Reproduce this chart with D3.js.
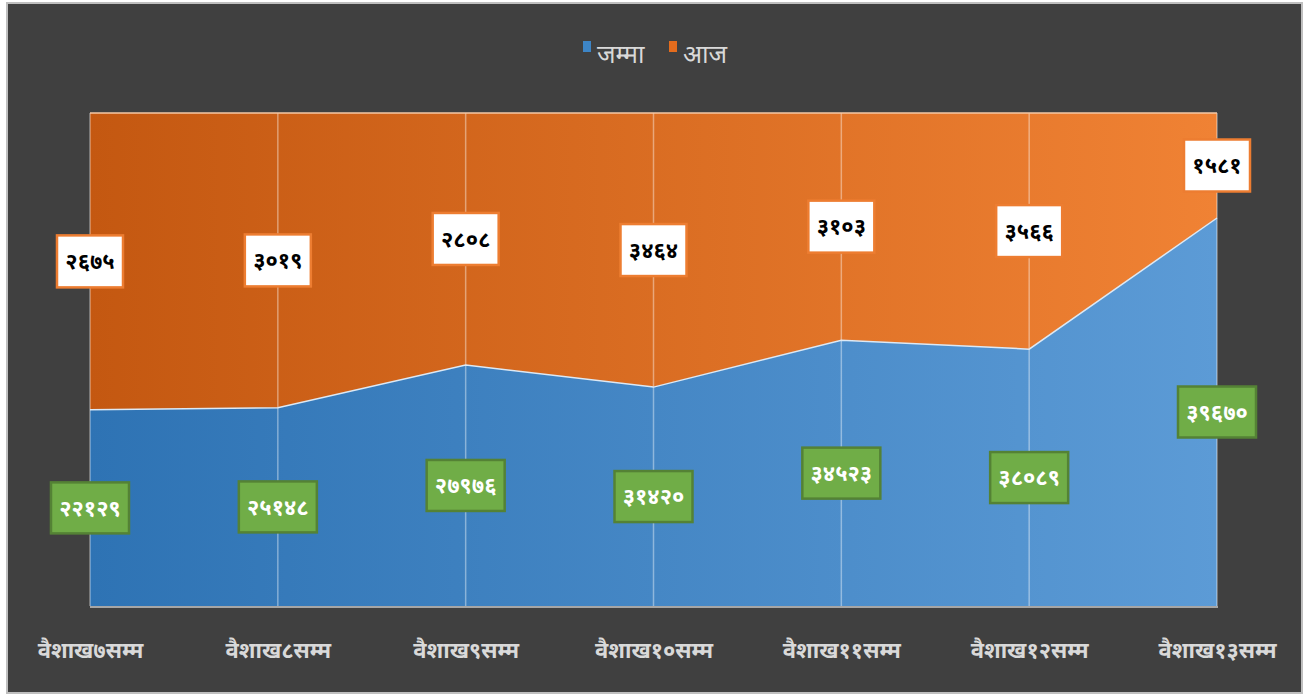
<!DOCTYPE html>
<html>
<head>
<meta charset="utf-8">
<script src="https://cdn.jsdelivr.net/npm/d3@7"></script>
<style>
  html, body { margin: 0; padding: 0; background: #ffffff; }
  #chart { width: 1306px; height: 695px; }
  text { font-family: 'Noto Sans Devanagari', 'Noto Sans', 'Lohit Devanagari', sans-serif; }
</style>
</head>
<body>
<div id="chart"></div>
<script>
const categories = ['वैशाख७सम्म', 'वैशाख८सम्म', 'वैशाख९सम्म', 'वैशाख१०सम्म', 'वैशाख११सम्म', 'वैशाख१२सम्म', 'वैशाख१३सम्म']
const seriesNames = ['जम्मा', 'आज']
// shares (%) of the 100% stacked area
const jammaShare = [39.8, 40.2, 48.9, 44.4, 53.9, 52.1, 78.7]
const aajShare = [60.2, 59.8, 51.1, 55.6, 46.1, 47.9, 21.3]
// data label texts as shown
const jammaLabels = ['२२१२९', '२५१४८', '२७९७६', '३१४२०', '३४५२३', '३८०८९', '३९६७०']
const aajLabels = ['२६७५', '३०१९', '२८०८', '३४६४', '३१०३', '३५६६', '१५८१']

const width = 1306
const height = 695
const margin = { top: 113, right: 89, bottom: 89, left: 90 }

const data = categories.map((c, i) => ({ cat: c, jamma: jammaShare[i], aaj: aajShare[i] }))

const svg = d3.select('#chart').append('svg')
  .attr('width', width)
  .attr('height', height)

// background + outer border
svg.append('rect')
  .attr('x', 7).attr('y', 3)
  .attr('width', 1295).attr('height', 690)
  .attr('fill', '#404040')
  .attr('stroke', '#bfbfbf')
  .attr('stroke-width', 2)

const xScale = d3.scalePoint()
  .domain(categories)
  .range([margin.left, width - margin.right])

const yScale = d3.scaleLinear()
  .domain([0, 100])
  .range([height - margin.bottom, margin.top])

const defs = svg.append('defs')
const grad = (id, c0, c1) => {
  const g = defs.append('linearGradient').attr('id', id)
    .attr('x1', '0%').attr('x2', '100%').attr('y1', '0%').attr('y2', '0%')
  g.append('stop').attr('offset', '0%').attr('stop-color', c0)
  g.append('stop').attr('offset', '100%').attr('stop-color', c1)
}
grad('gBlue', '#2e73b4', '#5c9bd6')
grad('gOrange', '#c45811', '#f08234')

const stacked = d3.stack().keys(['jamma', 'aaj'])(data)
const fills = ['url(#gBlue)', 'url(#gOrange)']
const strokes = ['#dce9f5', '#f6c9a6']

const area = d3.area()
  .x((d) => xScale(d.data.cat))
  .y0((d) => yScale(d[0]))
  .y1((d) => yScale(d[1]))

const line = d3.line()
  .x((d) => xScale(d.data.cat))
  .y((d) => yScale(d[1]))

// draw data
svg.append('g').selectAll('path')
  .data(stacked)
  .join('path')
  .attr('d', area)
  .attr('fill', (d, i) => fills[i])

// vertical gridlines
svg.append('g').selectAll('line')
  .data(categories)
  .join('line')
  .attr('x1', (d) => xScale(d)).attr('x2', (d) => xScale(d))
  .attr('y1', yScale(100)).attr('y2', yScale(0))
  .attr('stroke', 'rgba(255,255,255,0.4)')
  .attr('stroke-width', 1.5)

svg.append('g').selectAll('path')
  .data(stacked)
  .join('path')
  .attr('d', line)
  .attr('fill', 'none')
  .attr('stroke', (d, i) => strokes[i])
  .attr('stroke-width', 1.5)

// bottom axis line
svg.append('line')
  .attr('x1', xScale.range()[0]).attr('x2', xScale.range()[1] + 1)
  .attr('y1', yScale(0) + 1).attr('y2', yScale(0) + 1)
  .attr('stroke', '#a6a6a6')
  .attr('stroke-width', 2)

// axis labels
const xAxis = d3.axisBottom(xScale).tickSize(0).tickPadding(36)
const xAxisG = svg.append('g')
  .attr('transform', `translate(0, ${yScale(0)})`)
  .call(xAxis)
xAxisG.select('.domain').remove()
xAxisG.selectAll('text')
  .attr('fill', '#d9d9d9')
  .attr('font-size', 22)
  .attr('font-weight', 'bold')
  .style('font-family', "'Noto Sans Devanagari', 'Noto Sans', sans-serif")

// data labels
const labelSets = [
  { layer: stacked[0], texts: jammaLabels, fill: '#70ad47', stroke: '#548235', color: '#ffffff', w: 78, h: 51 },
  { layer: stacked[1], texts: aajLabels, fill: '#ffffff', stroke: '#ed7d31', color: '#000000', w: 66, h: 52 }
]
labelSets.forEach((s) => {
  const g = svg.append('g').selectAll('g')
    .data(s.layer)
    .join('g')
    .attr('transform', (d) => `translate(${xScale(d.data.cat)}, ${yScale((d[0] + d[1]) / 2)})`)
  g.append('rect')
    .attr('x', -s.w / 2)
    .attr('y', -s.h / 2)
    .attr('width', s.w)
    .attr('height', s.h)
    .attr('fill', s.fill)
    .attr('stroke', s.stroke)
    .attr('stroke-width', 2.5)
  g.append('text')
    .attr('text-anchor', 'middle')
    .attr('dy', '0.35em')
    .attr('fill', s.color)
    .attr('font-size', 22)
    .attr('font-weight', 'bold')
    .text((d, i) => s.texts[i])
})

// legend
const legend = svg.append('g').attr('transform', 'translate(583, 55)')
const legendColors = ['#3d85c6', '#e46c1d']
const lx = [0, 86]
seriesNames.forEach((n, i) => {
  legend.append('rect')
    .attr('x', lx[i]).attr('y', -14)
    .attr('width', 8).attr('height', 11)
    .attr('fill', legendColors[i])
  legend.append('text')
    .attr('x', lx[i] + 14).attr('y', 0)
    .attr('dy', '0.3em')
    .attr('fill', '#d9d9d9')
    .attr('font-size', 25)
    .text(n)
})
</script>
</body>
</html>
